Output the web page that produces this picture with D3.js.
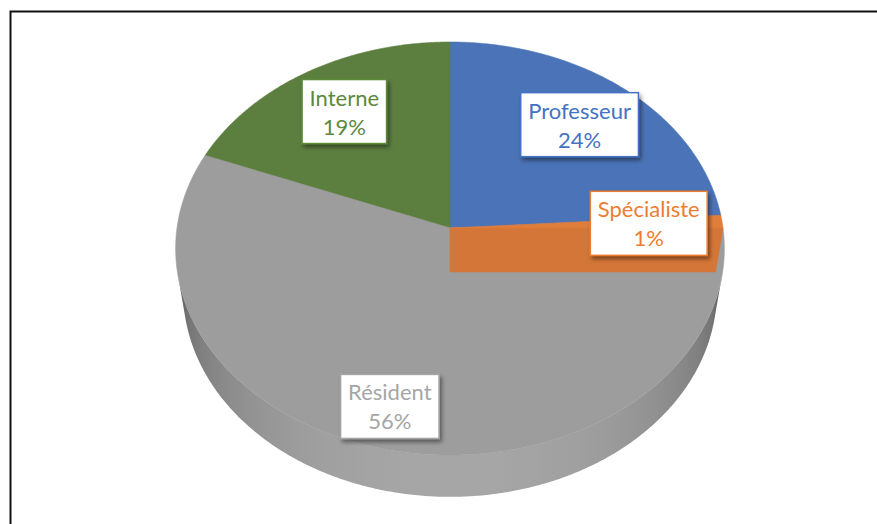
<!DOCTYPE html>
<html>
<head>
<meta charset="utf-8">
<script src="https://cdn.jsdelivr.net/npm/d3@7"></script>
<style>
  body { margin: 0; background: #fff; }
  svg { display: block; }
</style>
</head>
<body>
<svg id="chart" width="877" height="524"></svg>
<script>
// ---- data ----
const categories = ["Professeur", "Spécialiste", "Résident", "Interne"];
const shares = [24, 1, 56, 19];
const percentLabels = ["24%", "1%", "56%", "19%"];

// ---- palette ----
const faceColors = ["#4b73b7", "#e07d3b", "#9d9d9d", "#5c7f40"];
const textColors = ["#4472c4", "#ed7d31", "#a5a5a5", "#5b8a3b"];

const svg = d3.select("#chart");
const defs = svg.append("defs");

// ---- 3D view: a disc tilted towards the viewer, seen in perspective ----
const view = {
  cx: 450, cy: 228,   // screen position of the top-face centre
  R: 273,             // radius in pixels at the centre depth
  tilt: Math.asin(0.749),
  dist: 6.67,         // camera distance in radii
  thick: 0.25         // disc thickness in radii
};
const cosT = Math.cos(view.tilt), sinT = Math.sin(view.tilt);

// theta: clockwise from the far side; r: radius fraction; h: 0 top, -thick bottom
function project(theta, r, h) {
  const x = r * Math.sin(theta), z = r * Math.cos(theta);
  const ys = h * cosT + z * sinT;
  const depth = z * cosT - h * sinT;
  const s = view.dist / (view.dist + depth);
  return [view.cx + view.R * x * s, view.cy - view.R * ys * s];
}

const line = d3.line();
const STEP = Math.PI / 360;
function arcPoints(a0, a1, r, h) {
  const n = Math.max(1, Math.ceil(Math.abs(a1 - a0) / STEP));
  return d3.range(n + 1).map(i => project(a0 + (a1 - a0) * i / n, r, h));
}

const pie = d3.pie().sort(null).value(d => d.value);
const slices = pie(categories.map((c, i) => ({ name: c, value: shares[i], label: percentLabels[i], i })));

// side-wall shading: darker towards the silhouette, lit in the middle
function sideGradient(color, id) {
  const g = defs.append("linearGradient").attr("id", id)
    .attr("gradientUnits", "userSpaceOnUse")
    .attr("x1", view.cx - view.R * 1.01).attr("x2", view.cx + view.R * 1.01)
    .attr("y1", 0).attr("y2", 0);
  const base = d3.rgb(color);
  d3.range(0, 1.0001, 0.025).forEach(p => {
    const n = 2 * p - 1;
    const k = 0.5 + 0.56 * Math.pow(Math.max(0, 1 - n * n), 0.35);
    const c = d3.rgb(Math.min(255, base.r * k), Math.min(255, base.g * k), Math.min(255, base.b * k));
    g.append("stop").attr("offset", p).attr("stop-color", c.formatHex());
  });
  return `url(#${id})`;
}

// label shadow
const shadow = defs.append("filter").attr("id", "labelShadow")
  .attr("x", "-20%").attr("y", "-20%").attr("width", "150%").attr("height", "160%");
shadow.append("feDropShadow").attr("dx", 2).attr("dy", 3).attr("stdDeviation", 2)
  .attr("flood-color", "#000").attr("flood-opacity", 0.45);

// ---- paint order: farthest slice first ----
const TAU = 2 * Math.PI;
function farthest(d) {
  if (d.startAngle <= 1e-9 || d.endAngle >= TAU - 1e-9) return 1;
  return Math.max(Math.cos(d.startAngle), Math.cos(d.endAngle));
}
const order = slices.slice().sort((a, b) => farthest(b) - farthest(a));

const pieG = svg.append("g");

order.forEach(d => {
  const col = faceColors[d.data.i];
  const g = pieG.append("g");

  // radial cut walls facing the camera
  const walls = [];
  if (Math.sin(d.endAngle) > 1e-6) walls.push(d.endAngle);
  if (Math.sin(d.startAngle) < -1e-6) walls.push(d.startAngle);
  walls.forEach(a => {
    const pts = [project(a, 0, 0), project(a, 1, 0), project(a, 1, -view.thick), project(a, 0, -view.thick)];
    g.append("path").attr("d", line(pts) + "Z")
      .attr("fill", d3.rgb(col).darker(0.15)).attr("stroke", d3.rgb(col).darker(0.15)).attr("stroke-width", 0.5);
  });

  // outer rim wall: visible where the outward normal faces the camera
  const limit = -1 / (view.dist * cosT);
  const runs = [];
  let cur = null;
  const n = Math.max(1, Math.ceil((d.endAngle - d.startAngle) / STEP));
  for (let i = 0; i <= n; i++) {
    const a = d.startAngle + (d.endAngle - d.startAngle) * i / n;
    if (Math.cos(a) < limit) {
      if (!cur) { cur = [a, a]; runs.push(cur); }
      cur[1] = a;
    } else cur = null;
  }
  if (runs.length) {
    const fill = sideGradient(col, "side" + d.data.i);
    runs.forEach(([a0, a1]) => {
      const pts = arcPoints(a0, a1, 1, 0).concat(arcPoints(a1, a0, 1, -view.thick));
      g.append("path").attr("d", line(pts) + "Z").attr("fill", fill);
    });
  }

  // top face
  const top = [project(0, 0, 0)].concat(arcPoints(d.startAngle, d.endAngle, 1, 0));
  g.append("path").attr("d", line(top) + "Z")
    .attr("fill", col).attr("stroke", col).attr("stroke-width", 0.6);
});

// ---- data labels ----
const labelG = svg.append("g")
  .style("font-family", "Lato, 'Open Sans', sans-serif")
  .style("font-size", "22px");

slices.forEach(d => {
  const mid = (d.startAngle + d.endAngle) / 2;
  const front = Math.max(0, -Math.cos(mid));
  const r = 0.73 + 0.1 * front;
  const [x0, y] = project(mid + 0.06 * front, r, 0);
  const x = x0;
  const g = labelG.append("g").attr("transform", `translate(${x},${y})`);
  const box = g.append("rect");
  const t1 = g.append("text").attr("text-anchor", "middle").attr("dominant-baseline", "central")
    .attr("y", -14.5).attr("fill", textColors[d.data.i]).text(d.data.name);
  const t2 = g.append("text").attr("text-anchor", "middle").attr("dominant-baseline", "central")
    .attr("y", 14.5).attr("fill", textColors[d.data.i]).text(d.data.label);
  const w = Math.max(t1.node().getComputedTextLength(), t2.node().getComputedTextLength()) + 15;
  const h = 64;
  box.attr("x", -w / 2).attr("y", -h / 2).attr("width", w).attr("height", h)
    .attr("fill", "#fff").attr("stroke", textColors[d.data.i]).attr("stroke-width", 1.5)
    .attr("filter", "url(#labelShadow)");
});

// ---- chart frame ----
svg.append("rect").attr("x", 10.5).attr("y", 11.5).attr("width", 1000).attr("height", 1000)
  .attr("fill", "none").attr("stroke", "#111").attr("stroke-width", 2);
</script>
</body>
</html>
